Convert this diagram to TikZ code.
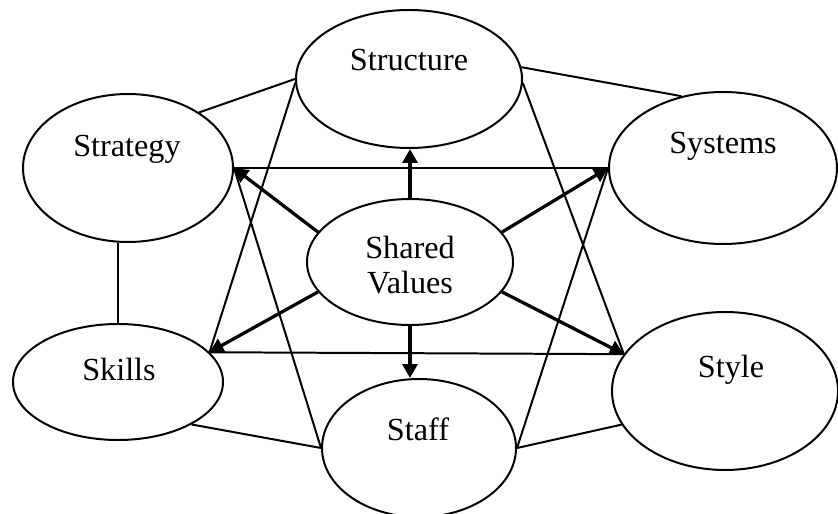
\documentclass[tikz,border=0pt]{standalone}
\usepackage{fontspec}
\setmainfont{Liberation Serif}
\usetikzlibrary{shapes.geometric,arrows.meta}

\begin{document}
\begin{tikzpicture}[x=0.03cm, y=-0.03cm,
	oval/.style={draw, ellipse, line width=1.7pt, inner sep=0pt},
	word/.style={anchor=base, inner sep=0pt, font=\fontsize{27.5}{29.8}\selectfont},
	link/.style={line width=1.7pt},
	push/.style={line width=2.8pt, -{Triangle[length=0.42cm,width=0.45cm]}}]
			%%%%% START %%%%%
			
			\useasboundingbox (0, 0) rectangle (838, 514);
			
			% the seven ovals
			\node[oval, minimum width=6.78cm, minimum height=4.14cm] (structure) at (409, 79) {};
			\node[oval, minimum width=6.3cm, minimum height=4.44cm] (strategy) at (128, 168) {};
			\node[oval, minimum width=6.84cm, minimum height=4.56cm] (systems) at (723, 168) {};
			\node[oval, minimum width=6.18cm, minimum height=3.78cm] (values) at (410, 262) {};
			\node[oval, minimum width=6.3cm, minimum height=3.48cm] (skills) at (118, 382) {};
			\node[oval, minimum width=5.82cm, minimum height=4.14cm] (staff) at (419, 448) {};
			\node[oval, minimum width=6.78cm, minimum height=4.74cm] (style) at (725, 391) {};
			
			\node[word] (structureT) at (409, 71) {Structure};
			\node[word] (strategyT) at (127, 157) {Strategy};
			\node[word] (systemsT) at (723, 154) {Systems};
			\node[word, anchor=center, align=center] (valuesT) at (410, 265) {Shared\\Values};
			\node[word] (skillsT) at (119, 381) {Skills};
			\node[word] (staffT) at (418, 440) {Staff};
			\node[word] (styleT) at (731, 377) {Style};
			
			% outer ring
			\draw[link] (strategy.38) -- (structure.west);
			\draw[link] (structure.6) -- (systems.120);
			\draw[link] (skills.north) -- (skills.north |- strategy.south);
			\draw[link] (skills.-30) -- (staff.west);
			\draw[link] (staff.east) -- (style.-162);
			
			% the two triangles
			\draw[link] (strategy.east) -- (systems.west);
			\draw[link] (skills.18) -- (style.160);
			\draw[link] (structure.182) -- (skills.18);
			\draw[link] (structure.-2) -- (style.160);
			\draw[link] (strategy.east) -- (staff.west);
			\draw[link] (systems.west) -- (staff.east);
			
			% from the centre
			\draw[push] (values.north) -- (values.north |- structure.south);
			\draw[push] (values.162) -- (strategy.east);
			\draw[push] (values.18) -- (systems.west);
			\draw[push] (values.198) -- (skills.18);
			\draw[push] (values.-18) -- (style.160);
			\draw[push] (values.south) -- (values.south |- staff.north);
			
			%%%%% END %%%%%
\end{tikzpicture}
\end{document}
